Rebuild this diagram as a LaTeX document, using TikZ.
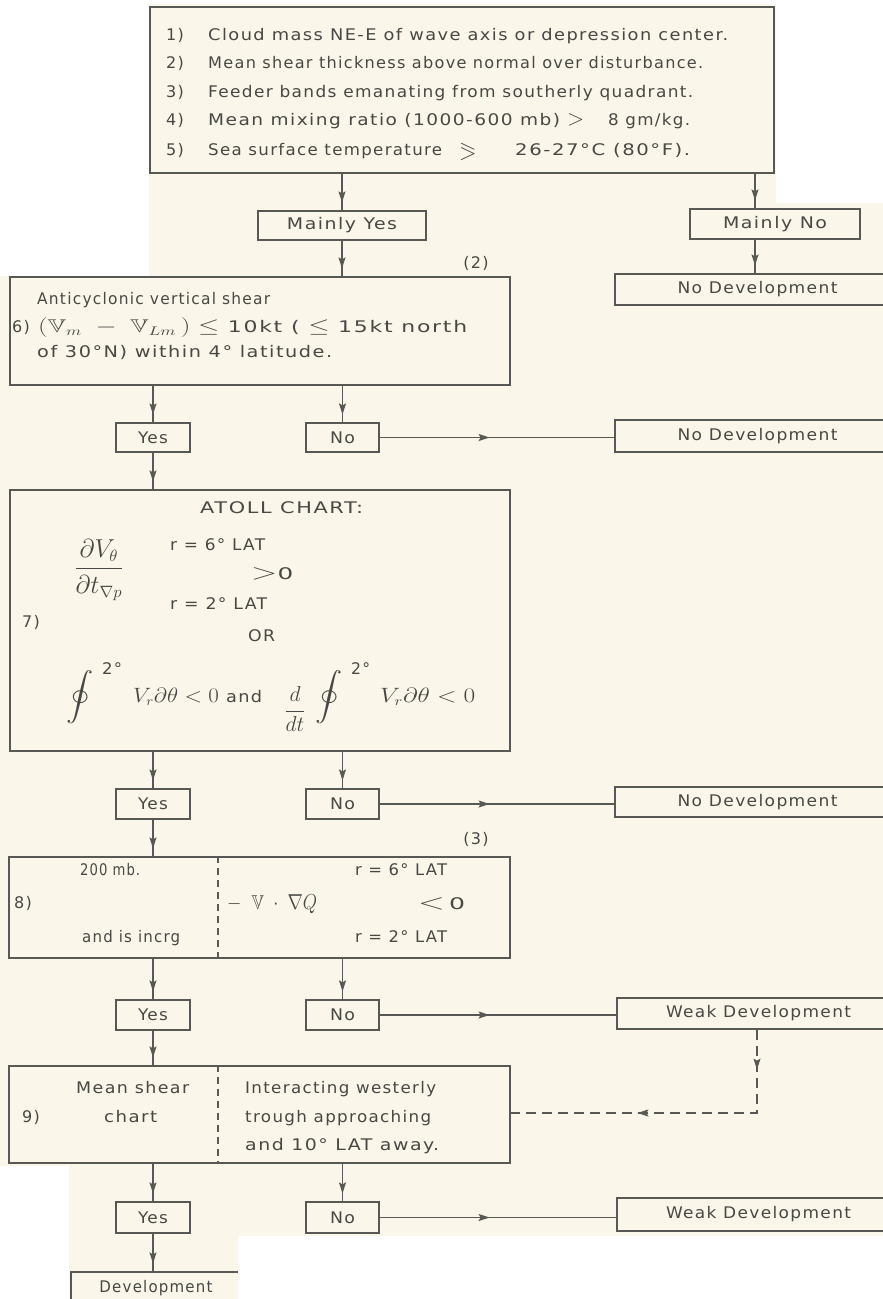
\documentclass[tikz,border=0pt]{standalone}
\usepackage{amsmath}
\usepackage{amssymb}
\usepackage{graphicx}
\usepackage{fontspec}
\setmainfont{DejaVu Sans}[LetterSpace=8]
\usetikzlibrary{arrows.meta,decorations.markings}
\definecolor{paper}{RGB}{250,246,233}
\definecolor{ink}{RGB}{72,72,68}
\definecolor{lc}{RGB}{88,88,84}
\newcommand\tw[2]{\resizebox{#1pt}{\height}{#2}}
\begin{document}
\begin{tikzpicture}[x=1pt,y=-1pt,
  bx/.style={draw=lc, line width=1.2pt, rectangle, inner sep=0pt, text=ink, font=\fontsize{16}{19}\selectfont},
  tx/.style={text=ink, inner sep=0pt, anchor=base west, font=\fontsize{16}{19}\selectfont},
  tc/.style={text=ink, inner sep=0pt, anchor=center, font=\fontsize{16}{19}\selectfont},
  tip/.tip={Stealth[length=11pt,width=7pt,inset=2pt]},
  arr/.style={color=lc, draw, line width=1.1pt, postaction={decorate},
    decoration={markings, mark=at position -8pt with {\arrow{tip}}}},
  harr/.style={color=lc, draw, line width=1.1pt, postaction={decorate},
    decoration={markings, mark=at position 110pt with {\arrow{tip}}}},
  fb/.style={color=lc, draw, line width=1.1pt, dash pattern=on 10pt off 6pt, postaction={decorate},
    decoration={markings,
      mark=at position 40pt with {\arrow{tip}},
      mark=at position 203pt with {\arrow{tip}}}},
  dv/.style={color=lc, draw, line width=1.1pt, dash pattern=on 7pt off 5pt}
]
\useasboundingbox (0,0) rectangle (883,1299);
\clip (0,0) rectangle (883,1299);
\fill[paper] (0,0) rectangle (883,1299);

% ---------- boxes ----------
\node[bx, minimum width=624pt, minimum height=166pt] (T) at (462,90) {};
\node[bx, minimum width=168pt, minimum height=29pt] (MY) at (342,225.5) {\tw{110}{Mainly Yes}};
\node[bx, minimum width=170pt, minimum height=30pt] (MN) at (775,224) {\tw{104}{Mainly No}};
\node[bx, minimum width=285pt, minimum height=31pt] (ND1) at (757.5,289.5) {\tw{160}{No Development}};

\node[bx, minimum width=500pt, minimum height=108pt] (B6) at (260,331) {};
\node[bx, minimum width=74pt, minimum height=29pt] (Yes6) at (153,437.5) {\tw{30}{Yes}};
\node[bx, minimum width=73pt, minimum height=29pt] (No6) at (342.5,437.5) {\tw{25}{No}};
\node[bx, minimum width=285pt, minimum height=32pt] (ND2) at (757.5,436) {\tw{160}{No Development}};

\node[bx, minimum width=500pt, minimum height=261pt] (B7) at (260,620.5) {};
\node[bx, minimum width=74pt, minimum height=30pt] (Yes7) at (153,804) {\tw{30}{Yes}};
\node[bx, minimum width=73pt, minimum height=30pt] (No7) at (342.5,804) {\tw{25}{No}};
\node[bx, minimum width=285pt, minimum height=30pt] (ND3) at (757.5,802) {\tw{160}{No Development}};

\node[bx, minimum width=501pt, minimum height=101pt] (B8) at (259.5,907.5) {};
\node[bx, minimum width=74pt, minimum height=30pt] (Yes8) at (153,1015) {\tw{30}{Yes}};
\node[bx, minimum width=73pt, minimum height=30pt] (No8) at (342.5,1015) {\tw{25}{No}};
\node[bx, minimum width=283pt, minimum height=31pt] (WD1) at (758.5,1013.5) {\tw{185}{Weak Development}};

\node[bx, minimum width=501pt, minimum height=97pt] (B9) at (259.5,1114.5) {};
\node[bx, minimum width=74pt, minimum height=31pt] (Yes9) at (153,1217.5) {\tw{30}{Yes}};
\node[bx, minimum width=73pt, minimum height=31pt] (No9) at (342.5,1217.5) {\tw{25}{No}};
\node[bx, minimum width=283pt, minimum height=33pt] (WD2) at (758.5,1214.5) {\tw{185}{Weak Development}};

\node[bx, minimum width=170pt, minimum height=33pt] (Dev) at (156,1288.5) {\tw{113}{Development}};

% ---------- top box text ----------
\node[tx] (n1) at (166,40.5) {1)};
\node[tx] (l1) at (208,40.5) {\tw{520}{Cloud mass NE-E of wave axis or depression center.}};
\node[tx] (n2) at (166,68.5) {2)};
\node[tx] (l2) at (208,68.5) {\tw{495}{Mean shear thickness above normal over disturbance.}};
\node[tx] (n3) at (166,97.5) {3)};
\node[tx] (l3) at (208,97.5) {\tw{485}{Feeder bands emanating from southerly quadrant.}};
\node[tx] (n4) at (166,125.5) {4)};
\node[tx] (l4a) at (208,125.5) {\tw{352}{Mean mixing ratio (1000-600 mb)}};
\node[tx] (l4b) at (567,125.5) {\scalebox{1.3}{$>$}};
\node[tx] (l4c) at (608,125.5) {\tw{82}{8 gm/kg.}};
\node[tx] (n5) at (166,155.5) {5)};
\node[tx] (l5a) at (208,155.5) {\tw{234}{Sea surface temperature}};
\node[tx] (l5b) at (459,157) {\scalebox{1.4}{$\eqslantgtr$}};
\node[tx] (l5c) at (515,155.5) {\tw{175}{26-27°C (80°F).}};

% ---------- box 6 ----------
\node[tc, anchor=base] (p2) at (476,268) {(2)};
\node[tx] (a6) at (37,304.5) {\tw{233}{Anticyclonic vertical shear}};
\node[tx] (n6) at (12,332.5) {6)};
\node[tx] (b6) at (38,332.5) {\tw{429}{\scalebox{1.15}{$(\mathbb{V}_{m}\;-\;\mathbb{V}_{Lm}\,)\leq$} 10kt ( \scalebox{1.15}{$\leq$} 15kt north}};
\node[tx] (c6) at (37,357.5) {\tw{295}{of 30°N) within 4° latitude.}};

% ---------- box 7 ----------
\node[tx] (atoll) at (200,513.5) {\tw{163}{ATOLL CHART:}};
\node[tc] (frac) at (99,570) {\scalebox{1.5}[1.5]{$\dfrac{\partial V_{\theta}}{\partial t_{\nabla p}}$}};
\node[tx] (r6) at (170,550.5) {\tw{95}{r = 6° LAT}};
\node[tx] (gt) at (251,579) {\tw{42}{\scalebox{1.3}{$>$}0}};
\node[tx] (r2) at (170,609.5) {\tw{97}{r = 2° LAT}};
\node[tx] (n7) at (22,627.5) {7)};
\node[tx] (orr) at (248,641.5) {\tw{27}{OR}};
\node[tc] (int1) at (80,697) {\scalebox{1.7}[1.5]{$\displaystyle\oint$}};
\node[tx] (sup1) at (102,674.5) {\tw{20}{2°}};
\node[tx] (vr1) at (133,702.5) {\tw{129}{\scalebox{1.2}{$V_{r}\partial\theta<0$} and}};
\node[tc] (ddt) at (295,709) {\scalebox{1.25}{$\dfrac{d}{dt}$}};
\node[tc] (int2) at (329,697) {\scalebox{1.7}[1.5]{$\displaystyle\oint$}};
\node[tx] (sup2) at (351,674.5) {\tw{19}{2°}};
\node[tx] (vr2) at (380,702.5) {\tw{95}{\scalebox{1.2}{$V_{r}\partial\theta<0$}}};

% ---------- box 8 ----------
\node[tc, anchor=base] (p3) at (476,844) {(3)};
\node[tx] (mb) at (80,875.5) {\tw{60}{200 mb.}};
\node[tx] (n8) at (14,908.5) {8)};
\node[tx] (inc) at (82,942.5) {\tw{98}{and is incrg}};
\node[tx] (r6b) at (355,875.5) {\tw{92}{r = 6° LAT}};
\node[tx] (adv) at (227,909) {\tw{90}{\scalebox{1.25}{$-\;\;\mathbb{V}\;\cdot\;\nabla Q$}}};
\node[tx] (lt) at (418,909) {\tw{47}{\scalebox{1.3}{$<$}\,0}};
\node[tx] (r2b) at (355,942.5) {\tw{92}{r = 2° LAT}};

% ---------- box 9 ----------
\node[tx] (ms) at (76,1093.5) {\tw{113}{Mean shear}};
\node[tx] (n9) at (22,1122.5) {9)};
\node[tx] (ch) at (104,1122.5) {\tw{53}{chart}};
\node[tx] (iw) at (245,1093.5) {\tw{191}{Interacting westerly}};
\node[tx] (ta) at (245,1122.5) {\tw{186}{trough approaching}};
\node[tx] (la) at (245,1150.5) {\tw{194}{and 10° LAT away.}};

% ---------- dividers ----------
\coordinate (dvx) at (218,0);
\draw[dv] (dvx |- B8.north) -- (dvx |- B8.south);
\draw[dv] (dvx |- B9.north) -- (dvx |- B9.south);

% ---------- connectors ----------
\coordinate (cR) at (755,0);
\draw[arr] (MY.north |- T.south) -- (MY.north);
\draw[arr] (cR |- T.south) -- (cR |- MN.north);
\draw[arr] (MY.south) -- (MY.south |- B6.north);
\draw[arr] (cR |- MN.south) -- (cR |- ND1.north);
\draw[arr] (Yes6.north |- B6.south) -- (Yes6.north);
\draw[arr] (No6.north |- B6.south) -- (No6.north);
\draw[harr] (No6.east) -- (No6.east -| ND2.west);
\draw[arr] (Yes6.south) -- (Yes6.south |- B7.north);
\draw[arr] (Yes7.north |- B7.south) -- (Yes7.north);
\draw[arr] (No7.north |- B7.south) -- (No7.north);
\draw[harr] (No7.east) -- (No7.east -| ND3.west);
\draw[arr] (Yes7.south) -- (Yes7.south |- B8.north);
\draw[arr] (Yes8.north |- B8.south) -- (Yes8.north);
\draw[arr] (No8.north |- B8.south) -- (No8.north);
\draw[harr] (No8.east) -- (No8.east -| WD1.west);
\draw[arr] (Yes8.south) -- (Yes8.south |- B9.north);
\coordinate (fbc) at (757,1113);
\draw[fb] (fbc |- WD1.south) -- (fbc) -- (fbc -| B9.east);
\draw[arr] (Yes9.north |- B9.south) -- (Yes9.north);
\draw[arr] (No9.north |- B9.south) -- (No9.north);
\draw[harr] (No9.east) -- (No9.east -| WD2.west);
\draw[arr] (Yes9.south) -- (Yes9.south |- Dev.north);

% ---------- uncovered (white) parts of the scan ----------
\fill[white] (0,0) rectangle (149,276);
\fill[white] (149,0) rectangle (883,4);
\fill[white] (776,0) rectangle (883,203);
\fill[white] (0,1166) rectangle (69,1299);
\fill[white] (238,1236) rectangle (883,1299);
\end{tikzpicture}
\end{document}
